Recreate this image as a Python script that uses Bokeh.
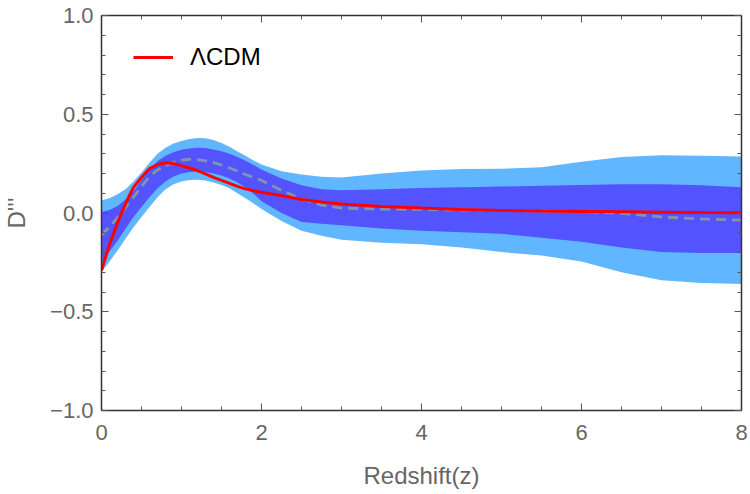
from bokeh.plotting import figure
from bokeh.models import (Range1d, FixedTicker, LinearAxis, Legend, LegendItem, ColumnDataSource)
from bokeh.embed import file_html
from bokeh.resources import INLINE

# ---- data ----
z = [0, 0.1, 0.2, 0.3, 0.4, 0.5, 0.6, 0.7, 0.8, 0.9, 1.0, 1.1, 1.2, 1.3, 1.4,
     1.5, 1.6, 1.7, 1.8, 1.9, 2.0, 2.25, 2.5, 2.75, 3.0, 3.5, 4.0, 4.5, 5.0,
     5.5, 6.0, 6.5, 7.0, 7.5, 8.0]
outer_upper = [0.064, 0.075, 0.095, 0.12, 0.16, 0.205, 0.255, 0.3, 0.33, 0.352,
               0.365, 0.375, 0.38, 0.378, 0.37, 0.355, 0.335, 0.312, 0.29, 0.266,
               0.245, 0.212, 0.195, 0.183, 0.18, 0.2, 0.215, 0.223, 0.224, 0.232,
               0.26, 0.283, 0.293, 0.29, 0.286]
outer_lower = [-0.3, -0.245, -0.19, -0.13, -0.072, -0.02, 0.03, 0.08, 0.12, 0.145,
               0.16, 0.167, 0.168, 0.164, 0.155, 0.142, 0.125, 0.1, 0.075, 0.048,
               0.02, -0.04, -0.09, -0.115, -0.135, -0.15, -0.158, -0.175, -0.198,
               -0.215, -0.245, -0.3, -0.34, -0.355, -0.359]
inner_upper = [0.005, 0.015, 0.035, 0.068, 0.11, 0.165, 0.22, 0.262, 0.29, 0.308,
               0.32, 0.327, 0.331, 0.329, 0.322, 0.313, 0.3, 0.284, 0.265, 0.243,
               0.22, 0.175, 0.14, 0.12, 0.115, 0.12, 0.127, 0.13, 0.134, 0.138,
               0.142, 0.145, 0.145, 0.14, 0.13]
inner_lower = [-0.25, -0.195, -0.14, -0.08, -0.02, 0.03, 0.08, 0.125, 0.16, 0.185,
               0.2, 0.208, 0.21, 0.207, 0.2, 0.19, 0.175, 0.155, 0.13, 0.098,
               0.06, 0.0, -0.045, -0.055, -0.062, -0.078, -0.09, -0.097, -0.105,
               -0.125, -0.145, -0.175, -0.197, -0.203, -0.203]
mean_rec = [-0.113, -0.07, -0.025, 0.028, 0.08, 0.135, 0.185, 0.218, 0.24, 0.256,
            0.268, 0.272, 0.27, 0.264, 0.255, 0.243, 0.228, 0.212, 0.195, 0.18,
            0.165, 0.115, 0.07, 0.04, 0.025, 0.02, 0.018, 0.015, 0.013, 0.01,
            0.008, -0.002, -0.02, -0.03, -0.036]

z_lcdm = [0, 0.05, 0.1, 0.15, 0.2, 0.25, 0.3, 0.35, 0.4, 0.5, 0.6, 0.7, 0.8, 0.9,
          1.0, 1.1, 1.2, 1.3, 1.4, 1.5, 1.6, 1.7, 1.8, 1.9, 2.0, 2.25, 2.5, 2.75,
          3.0, 3.5, 4.0, 4.5, 5.0, 5.5, 6.0, 6.5, 7.0, 7.5, 8.0]
lcdm = [-0.29, -0.225, -0.16, -0.105, -0.05, 0.0, 0.045, 0.09, 0.13, 0.18, 0.225,
        0.245, 0.254, 0.25, 0.24, 0.228, 0.215, 0.198, 0.18, 0.165, 0.15, 0.135,
        0.122, 0.113, 0.105, 0.088, 0.068, 0.056, 0.045, 0.033, 0.025, 0.018,
        0.013, 0.01, 0.008, 0.006, 0.004, 0.002, 0.001]

x_ticks = [0, 2, 4, 6, 8]
y_ticks = [-1.0, -0.5, 0.0, 0.5, 1.0]
y_tick_labels = ["\u22121.0", "\u22120.5", "0.0", "0.5", "1.0"]
x_minor = [i * 0.5 for i in range(17)]
y_minor = [round(-1 + i * 0.1, 2) for i in range(21)]

FONT = "Liberation Sans"
LABEL_COLOR = "#666666"

p = figure(width=750, height=494, output_backend="svg", toolbar_location=None,
           x_range=Range1d(0, 8), y_range=Range1d(-1, 1))
p.min_border_left = 101
p.min_border_right = 9
p.min_border_top = 15
p.min_border_bottom = 84
p.outline_line_color = None
p.xgrid.visible = False
p.ygrid.visible = False
p.background_fill_color = "white"
p.border_fill_color = "white"

src = ColumnDataSource(dict(z=z, ou=outer_upper, ol=outer_lower,
                            iu=inner_upper, il=inner_lower, m=mean_rec))
p.varea(x="z", y1="ol", y2="ou", source=src, fill_color="#61B7FF")
p.varea(x="z", y1="il", y2="iu", source=src, fill_color="#5454FF")
p.line(x="z", y="m", source=src, line_color="#8394AC", line_width=2.8,
       line_dash="10 6")
r_lcdm = p.line(z_lcdm, lcdm, line_color="#FF0000", line_width=3)

legend = Legend(items=[LegendItem(label="\u039bCDM", renderers=[r_lcdm])],
                location=(32, 339), margin=0, padding=0,
                border_line_color=None, background_fill_alpha=0,
                glyph_width=40, glyph_height=20, label_height=20,
                label_standoff=17, label_text_font=FONT,
                label_text_font_size="24px", label_text_color="#000000")
p.add_layout(legend)


def style_axis(ax, ticks, minor, overrides, show_labels):
    ax.ticker = FixedTicker(ticks=ticks, minor_ticks=minor)
    ax.axis_line_color = "#333333"
    ax.axis_line_width = 1.5
    ax.major_tick_in = 7
    ax.major_tick_out = 0
    ax.minor_tick_in = 4
    ax.minor_tick_out = 0
    ax.major_tick_line_color = "#555555"
    ax.minor_tick_line_color = "#555555"
    ax.major_tick_line_width = 1
    ax.minor_tick_line_width = 1
    if show_labels:
        ax.major_label_overrides = overrides
        ax.major_label_text_font = FONT
        ax.major_label_text_font_size = "22px"
        ax.major_label_text_color = LABEL_COLOR
    else:
        ax.major_label_text_font_size = "0px"
        ax.major_label_text_alpha = 0


xo = {t: str(t) for t in x_ticks}
yo = {t: l for t, l in zip(y_ticks, y_tick_labels)}

style_axis(p.xaxis[0], x_ticks, x_minor, xo, True)
style_axis(p.yaxis[0], y_ticks, y_minor, yo, True)
p.xaxis[0].major_label_standoff = 14
p.yaxis[0].major_label_standoff = 8
p.xaxis[0].axis_label = "Redshift(z)"
p.yaxis[0].axis_label = "D'''"
for ax in (p.xaxis[0], p.yaxis[0]):
    ax.axis_label_text_font = FONT
    ax.axis_label_text_font_size = "24px"
    ax.axis_label_text_font_style = "normal"
    ax.axis_label_text_color = LABEL_COLOR
p.xaxis[0].axis_label_standoff = 19
p.yaxis[0].axis_label_standoff = 17

top = LinearAxis()
right = LinearAxis()
style_axis(top, x_ticks, x_minor, {}, False)
style_axis(right, y_ticks, y_minor, {}, False)
top.major_label_standoff = 0
right.major_label_standoff = 0
p.add_layout(top, "above")
p.add_layout(right, "right")

open("out.html", "w").write(file_html(p, INLINE))
